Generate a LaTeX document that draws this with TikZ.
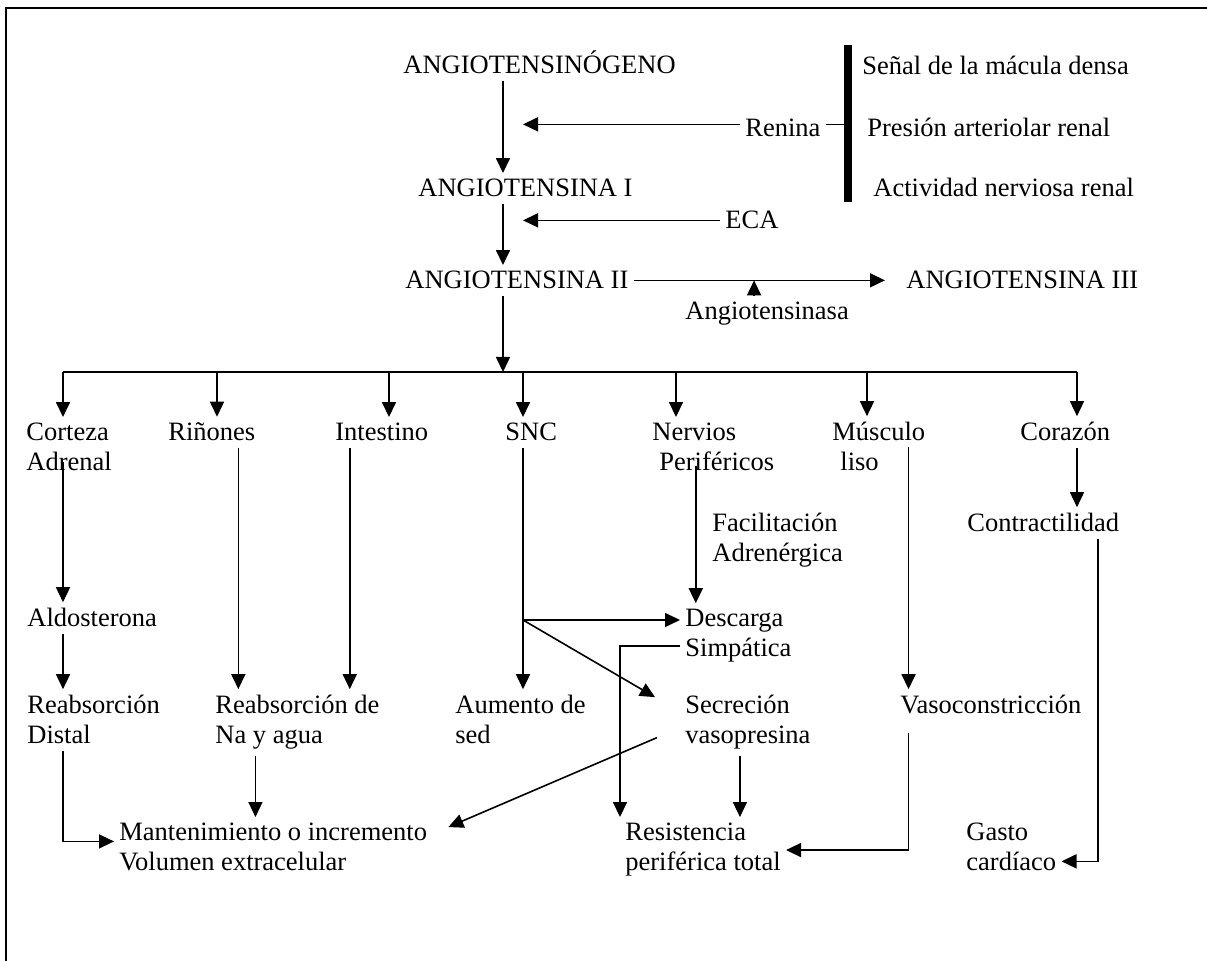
\documentclass[tikz,border=0pt]{standalone}
\usepackage{fontspec}
\setmainfont{Liberation Serif}
\usetikzlibrary{arrows.meta}

\begin{document}
\begin{tikzpicture}[x=0.5pt,y=-0.5pt,
    txt/.style={anchor=base west,align=left,inner xsep=2.5pt,inner ysep=3pt,
      font=\fontsize{13.25}{15}\selectfont},
    ln/.style={line width=0.8pt},
    arr/.style={ln,-{Triangle[length=7.5pt,width=7pt]}}]
  \fill[white] (0,0) rectangle (1207,961);
  \useasboundingbox (0,0) rectangle (1207,961);
  \draw[line width=1pt] (6,961) -- (6,8) -- (1207,8);

  % cascada
  \node[txt] (ang0) at (398,74) {ANGIOTENSINÓGENO};
  \node[txt] (ang1) at (413,197) {ANGIOTENSINA I};
  \node[txt] (ang2) at (400,289) {ANGIOTENSINA II};
  \node[txt] (ang3) at (901,289) {ANGIOTENSINA III};
  \node[txt] (ren) at (740,137) {Renina};
  \node[txt] (eca) at (720,229) {ECA};
  \node[txt] (angasa) at (680,320) {Angiotensinasa};
  \node[txt] (sen) at (857,75) {Señal de la mácula densa};
  \node[txt] (pres) at (862,137) {Presión arteriolar renal};
  \node[txt] (act) at (868,197) {Actividad nerviosa renal};
  \coordinate (axis) at (503,0);
  \coordinate (bar) at (848,45);

  \draw[arr] (axis |- ang0.south) -- (axis |- ang1.north);
  \draw[arr] (axis |- ang1.south) -- (axis |- ang2.north);
  \draw[arr] ([yshift=2pt]ren.west) -- ([xshift=10pt,yshift=2pt]axis |- ren.west);
  \draw[arr] (eca.west) -- ([xshift=10pt]axis |- eca.west);
  \draw[ln] ([yshift=2pt]ren.east) -- ([yshift=2pt]ren.east -| bar);
  \draw[line width=4pt] (bar) -- ++(0,157);
  \draw[arr,shorten >=8pt] (ang2.east) -- (ang3.west);
  \draw[arr] ([xshift=-6.5pt]angasa.north) -- ([xshift=-6.5pt]angasa.north |- ang2.east);

  % organos
  \node[txt] (cort) at (21,471) {Corteza\\Adrenal};
  \node[txt] (rin) at (163,441) {Riñones};
  \node[txt] (int) at (330,441) {Intestino};
  \node[txt] (snc) at (500,441) {SNC};
  \node[txt] (nerv) at (647,471) {Nervios\\\hspace*{3.5pt}Periféricos};
  \node[txt] (mus) at (827,471) {Músculo\\\hspace*{4pt}liso};
  \node[txt] (cor) at (1015,441) {Corazón};

  \coordinate (b1) at (63,372);
  \coordinate (b2) at (217,372);
  \coordinate (b3) at (389,372);
  \coordinate (b4) at (523,372);
  \coordinate (b5) at (676,372);
  \coordinate (b6) at (867,372);
  \coordinate (b7) at (1077,372);
  \draw[arr] (axis |- ang2.south) -- (axis |- b1);
  \draw[ln] (b1) -- (b7);
  \foreach \b/\n in {b1/cort,b2/rin,b3/int,b4/snc,b5/nerv,b6/mus,b7/cor}
    \draw[arr] (\b) -- (\b |- \n.north);

  % efectos
  \node[txt] (fac) at (707,562) {Facilitación\\Adrenérgica};
  \node[txt] (cont) at (962,532) {Contractilidad};
  \node[txt] (aldo) at (22,627) {Aldosterona};
  \node[txt] (desc) at (680,657) {Descarga\\Simpática};
  \node[txt] (reab) at (22,744) {Reabsorción\\Distal};
  \node[txt] (reabna) at (210,744) {Reabsorción de\\Na y agua};
  \node[txt] (aum) at (450,744) {Aumento de\\sed};
  \node[txt] (sec) at (680,744) {Secreción\\vasopresina};
  \node[txt] (vaso) at (895,714) {Vasoconstricción};
  \node[txt] (mant) at (114,871) {Mantenimiento o incremento\\Volumen extracelular};
  \node[txt] (res) at (620,871) {Resistencia\\periférica total};
  \node[txt] (gasto) at (961,871) {Gasto\\cardíaco};
  \coordinate (sb) at (523,620);

  \draw[arr,shorten <=-8pt] (b1 |- cort.south) -- (b1 |- aldo.north);
  \draw[arr] (b1 |- aldo.south) -- (b1 |- reab.north);
  \draw[arr] (b1 |- reab.south) |- ([yshift=3pt]mant.west);
  \draw[arr] ([xshift=13.25pt]rin.south) -- ([xshift=13.25pt]rin.south |- reabna.north);
  \draw[arr] ([xshift=-16pt]int.south) -- ([xshift=-16pt]int.south |- reabna.north);
  \draw[arr] ([xshift=-21pt]reabna.south) -- ([xshift=-21pt]reabna.south |- mant.north);
  \draw[arr] (b4 |- snc.south) -- (b4 |- aum.north);
  \draw[arr] (sb) -- (sb -| desc.west);
  \draw[arr] (sb) -- ([shift={(-25,8)}]sec.north west);
  \draw[arr,shorten <=-6pt] ([xshift=-8.75pt]nerv.south) -- ([xshift=-8.75pt]nerv.south |- desc.north);
  \draw[arr] ([yshift=-5pt]desc.west) -| (res.north west);
  \draw[arr] ([xshift=-4pt]sec.south) -- ([xshift=-4pt]sec.south |- res.north);
  \draw[arr] ([shift={(-23,15)}]sec.west) -- ([shift={(16,10)}]mant.north east);
  \draw[arr] ([xshift=-11pt]mus.east) -- ([xshift=-11pt]mus.east |- vaso.north);
  \draw[arr,shorten <=6pt] ([xshift=-11pt]mus.east |- vaso.south) |- (res.east);
  \draw[arr] (b7 |- cor.south) -- (b7 |- cont.north);
  \draw[arr] ([xshift=27.5pt]cont.south) |- ([yshift=-7pt]gasto.east);
\end{tikzpicture}
\end{document}
